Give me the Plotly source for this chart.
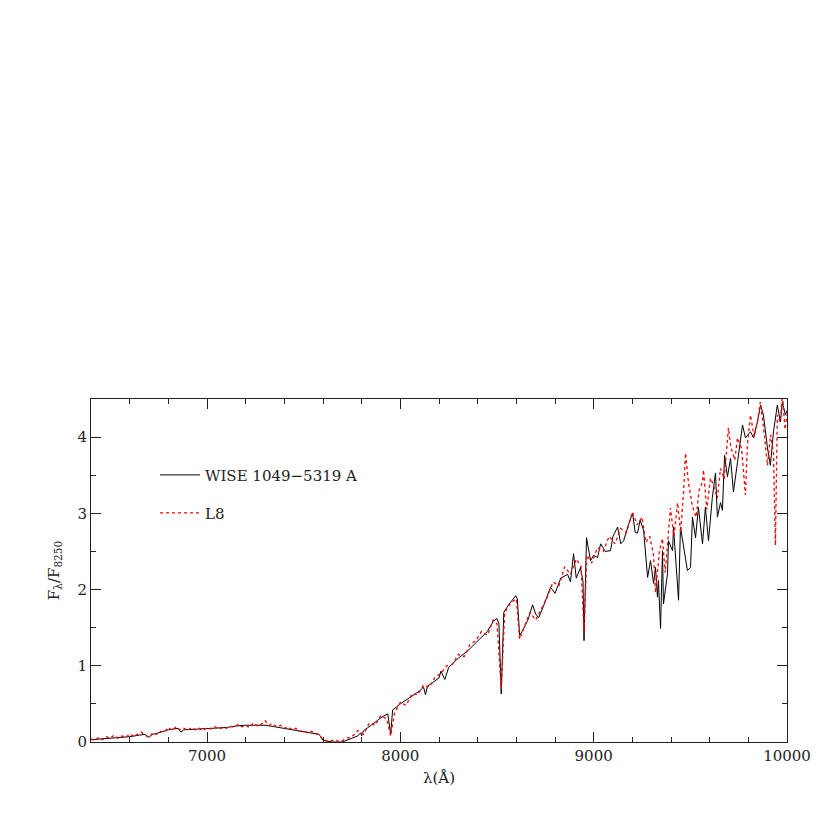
import plotly.graph_objects as go

# WISE 1049-5319 A spectrum (normalised at 8250 A)
wise_wave = [
    6400, 6450, 6500, 6550, 6600, 6650, 6680, 6700, 6715, 6750, 6800, 6850, 6865, 6880,
    6950, 7000, 7100, 7150, 7200, 7250, 7300, 7350, 7400, 7450, 7500, 7550, 7580, 7600,
    7650, 7700, 7740, 7780, 7795, 7800, 7810, 7850, 7900, 7935, 7950, 7960, 8000, 8050,
    8100, 8120, 8130, 8140, 8200, 8210, 8230, 8250, 8300, 8350, 8400, 8450, 8480, 8500,
    8510, 8522, 8535, 8560, 8597, 8605, 8617, 8630, 8660, 8684, 8700, 8715, 8740, 8777,
    8800, 8830, 8865, 8880, 8896, 8910, 8932, 8945, 8950, 8958, 8963, 8984, 9000, 9020,
    9036, 9060, 9087, 9100, 9124, 9140, 9155, 9180, 9201, 9215, 9227, 9240, 9258, 9279,
    9294, 9310, 9320, 9330, 9335, 9346, 9356, 9361, 9382, 9387, 9408, 9413, 9434, 9439,
    9449, 9465, 9485, 9501, 9511, 9527, 9542, 9563, 9578, 9594, 9614, 9630, 9640, 9656,
    9666, 9677, 9692, 9708, 9723, 9744, 9759, 9770, 9785, 9811, 9827, 9847, 9863, 9878,
    9899, 9914, 9930, 9950, 9966, 9976, 9992, 10000,
]
wise_flux = [
    0.03, 0.04, 0.05, 0.06, 0.07, 0.09, 0.10, 0.06, 0.10, 0.12, 0.16, 0.18, 0.13, 0.16,
    0.17, 0.18, 0.19, 0.21, 0.22, 0.22, 0.22, 0.20, 0.18, 0.16, 0.14, 0.12, 0.10, 0.02,
    0.00, 0.00, 0.04, 0.08, 0.12, 0.08, 0.15, 0.22, 0.32, 0.37, 0.10, 0.42, 0.50, 0.58,
    0.67, 0.72, 0.62, 0.73, 0.84, 0.93, 0.82, 0.98, 1.10, 1.20, 1.32, 1.45, 1.58, 1.62,
    1.55, 0.63, 1.70, 1.80, 1.92, 1.88, 1.40, 1.45, 1.60, 1.80, 1.68, 1.63, 1.78, 2.03,
    1.95, 2.15, 2.20, 2.10, 2.47, 2.15, 2.29, 2.10, 1.33, 2.20, 2.68, 2.38, 2.45, 2.42,
    2.60, 2.50, 2.51, 2.70, 2.82, 2.60, 2.64, 2.85, 3.00, 2.75, 2.74, 2.91, 2.78, 2.16,
    2.38, 2.08, 2.29, 1.90, 2.12, 1.49, 2.51, 1.81, 2.21, 2.64, 2.51, 2.82, 2.03, 1.86,
    2.82, 2.55, 2.25, 2.29, 2.95, 2.68, 3.08, 2.60, 3.08, 2.64, 3.21, 3.53, 2.95, 3.14,
    3.04, 3.76, 3.48, 3.72, 3.28, 3.67, 3.99, 4.16, 3.99, 4.07, 3.99, 4.20, 4.42, 4.29,
    3.86, 3.63, 4.07, 4.42, 4.20, 4.46, 4.29, 4.35,
]

# L8 standard template
l8_wave = [
    6400, 6420, 6440, 6460, 6480, 6500, 6520, 6540, 6560, 6580, 6600, 6620, 6640, 6660,
    6680, 6700, 6720, 6740, 6760, 6780, 6800, 6820, 6840, 6860, 6880, 6900, 6920, 6940,
    6960, 6980, 7000, 7020, 7040, 7060, 7080, 7100, 7120, 7140, 7160, 7180, 7200, 7220,
    7240, 7260, 7280, 7300, 7320, 7340, 7360, 7380, 7400, 7420, 7440, 7460, 7480, 7500,
    7520, 7540, 7560, 7580, 7600, 7630, 7660, 7690, 7720, 7750, 7780, 7810,
    7840, 7870, 7900, 7930, 7950, 7970, 8000, 8030, 8060, 8090, 8120, 8150, 8180, 8210,
    8240, 8270, 8300, 8330, 8360, 8390, 8420, 8450, 8480, 8500, 8522, 8540, 8570, 8600,
    8617, 8640, 8670, 8700, 8730, 8760, 8790, 8820, 8850, 8880, 8910, 8935, 8950, 8965,
    8990, 9020, 9050, 9080, 9110, 9140, 9170, 9200, 9225, 9250, 9270, 9290, 9310, 9320,
    9340, 9356, 9370, 9397, 9415, 9434, 9450, 9465, 9475, 9490, 9510, 9530, 9545, 9563,
    9568, 9585, 9604, 9620, 9640, 9656, 9675, 9697, 9710, 9730, 9744, 9765, 9785, 9795,
    9811, 9830, 9847, 9862, 9880, 9899, 9915, 9930, 9940, 9950, 9965, 9976, 9990, 10000,
]
l8_flux = [
    0.04, 0.02, 0.06, 0.03, 0.07, 0.05, 0.09, 0.05, 0.08, 0.06, 0.11, 0.07, 0.10, 0.13,
    0.09, 0.06, 0.12, 0.10, 0.14, 0.13, 0.19, 0.15, 0.20, 0.16, 0.18, 0.15, 0.19, 0.16,
    0.18, 0.15, 0.19, 0.17, 0.20, 0.17, 0.19, 0.18, 0.21, 0.19, 0.23, 0.20, 0.22, 0.19,
    0.25, 0.21, 0.23, 0.28, 0.22, 0.24, 0.20, 0.22, 0.18, 0.20, 0.16, 0.18, 0.14, 0.15,
    0.12, 0.14, 0.11, 0.10, 0.03, 0.01, 0.03, 0.00, 0.05, 0.07, 0.15, 0.10,
    0.25, 0.22, 0.35, 0.30, 0.08, 0.38, 0.52, 0.48, 0.63, 0.62, 0.75, 0.72, 0.85, 0.90,
    1.00, 1.02, 1.15, 1.12, 1.28, 1.33, 1.45, 1.40, 1.60, 1.55, 0.70, 1.70, 1.82, 1.88,
    1.35, 1.50, 1.70, 1.60, 1.75, 1.90, 2.10, 2.05, 2.30, 2.20, 2.40, 2.30, 1.45, 2.45,
    2.35, 2.55, 2.50, 2.70, 2.60, 2.80, 2.75, 3.02, 2.85, 2.95, 2.62, 2.70, 2.45, 1.96,
    2.50, 2.67, 2.22, 3.07, 2.70, 3.14, 2.75, 3.28, 3.79, 3.41, 3.10, 2.95, 3.30, 3.41,
    3.57, 3.05, 3.46, 3.37, 3.20, 3.59, 3.45, 4.12, 3.86, 3.70, 3.99, 3.85, 3.24, 3.90,
    4.29, 4.00, 4.20, 4.46, 4.10, 3.63, 4.03, 3.80, 2.58, 4.29, 4.20, 4.55, 4.10, 4.29,
]

x_ticks = [7000, 8000, 9000, 10000]
y_ticks = [0, 1, 2, 3, 4]

FONT = "DejaVu Serif"
INK = "#222222"

fig = go.Figure()
fig.add_trace(
    go.Scatter(
        x=wise_wave, y=wise_flux, mode="lines", name="WISE 1049\u22125319 A",
        line=dict(color="black", width=1), legend="legend",
    ),
)
fig.add_trace(
    go.Scatter(
        x=l8_wave, y=l8_flux, mode="lines", name="L8",
        line=dict(color="red", width=1.3, dash="dot"), legend="legend2",
    ),
)

axis_common = dict(
    showline=True, linecolor=INK, linewidth=1, mirror="ticks",
    ticks="inside", ticklen=10, tickwidth=1, tickcolor=INK,
    showgrid=False, zeroline=False,
    tickfont=dict(family=FONT, size=15, color=INK),
)
fig.update_xaxes(
    range=[6400, 10000], tickvals=x_ticks, tickformat="d",
    minor=dict(ticks="inside", ticklen=5, dtick=200, tick0=0, tickcolor=INK, showgrid=False),
    title=dict(text="\u03bb(\u00c5)", font=dict(family=FONT, size=15, color=INK), standoff=8),
    **axis_common,
)
fig.update_yaxes(
    range=[0, 4.5], tickvals=y_ticks,
    minor=dict(ticks="inside", ticklen=5, dtick=0.5, tick0=0, tickcolor=INK, showgrid=False),
    title=dict(text="F<sub>\u03bb</sub>/F<sub>8250</sub>", font=dict(family=FONT, size=15, color=INK),
               standoff=14),
    **axis_common,
)

legend_common = dict(
    xanchor="left", yanchor="middle", bgcolor="rgba(0,0,0,0)",
    font=dict(family=FONT, size=15, color=INK), itemwidth=40,
)
fig.update_layout(
    width=830, height=830,
    margin=dict(l=83, r=51, t=391, b=96),
    paper_bgcolor="white", plot_bgcolor="white",
    showlegend=True,
    legend=dict(x=0.092, y=0.778, **legend_common),
    legend2=dict(x=0.092, y=0.667, **legend_common),
)

fig.write_html("out.html")
